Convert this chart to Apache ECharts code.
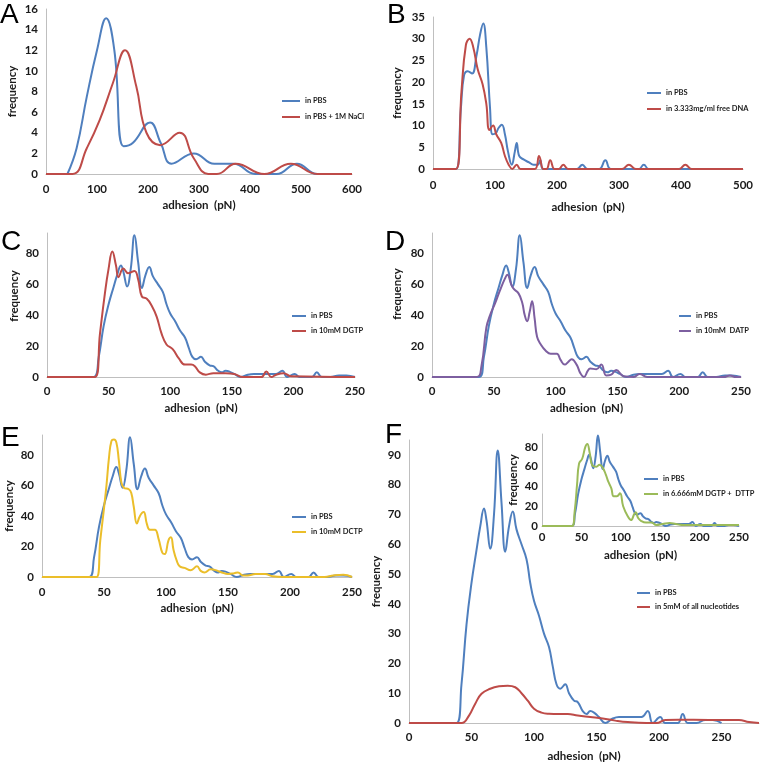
<!DOCTYPE html>
<html><head><meta charset="utf-8">
<script src="https://cdn.jsdelivr.net/npm/echarts@6/dist/echarts.min.js"></script>
<style>html,body{margin:0;padding:0;background:#fff}#c{width:762px;height:763px}</style>
</head><body><div id="c"></div><script>
// ---------- data (x = adhesion pN, y = frequency) ----------
const pbsA = [[42,0],[60,2.5],[80,7.5],[100,12],[118,15.1],[134,12],[152,2.7],[170,3],[204,5],[225,3],[246,1],[290,2],[330,1],[368,1],[410,0],[452,0],[492,1],[532,0],[600,0]];
const naclA = [[0,0],[13,0],[52,0],[80,2.5],[105,5.2],[131,8.8],[155,12],[177,8.5],[197,4],[224,2.8],[262,4],[290,1.5],[318,0],[335,0],[372,1],[428,0],[480,1],[532,0],[600,0]];

const pbsB = [[0,0],[37,0],[45,14],[50,21.5],[56,22.5],[63,22],[70,26],[76,31],[81,33.5],[86,28],[92,14],[96,8],[101,8.2],[106,9.5],[111,10.2],[116,8],[121,4],[127,1],[132,4],[135,6],[139,3],[146,2.2],[155,1.5],[162,1],[169,1],[173,2],[178,0],[232,0],[241,1],[249,0],[268,0],[278,2],[287,0],[332,0],[340,1],[348,0],[500,0]];
const dnaB = [[0,0],[37,0],[46,18],[53,28.5],[59,30],[65,28],[72,23],[80,19.5],[86,15],[91,9],[97,10],[102,8],[110,6],[116,3],[122,1],[128,0],[135,1],[141,0],[164,0],[171,3],[178,0],[183,0],[189,2],[196,0],[203,0],[210,1],[218,0],[305,0],[316,1],[327,0],[397,0],[407,1],[417,0],[500,0]];

const pbsN = [[0,0],[38,0],[42,13],[46,33],[50,47],[54,58],[57,66],[60,72],[62,68],[65,58.5],[68,70],[71,91.5],[74,74],[77,57.5],[80,66],[83,71],[86,65],[90,60],[94,55],[97,47],[100,41],[104,36],[108,30],[112,25.5],[115,19],[118,13],[121,11.5],[125,13],[128,10],[132,7.5],[135,7],[139,4],[142,3],[145,4],[148,3.5],[152,2],[157,0],[163,1.5],[168,2],[178,2],[186,2],[191,4],[195,0],[201,2],[205,0],[215,0],[219,3],[223,0],[230,0],[237,1],[243,1],[250,0]];
const dgtpC = [[0,0],[39,0],[43,28],[47,54],[50,70],[53,81],[56,72],[58,64.5],[62,70],[66,67],[71,68.5],[74,63],[77,52],[81,50.5],[85,46],[89,39],[93,28],[97,21],[102,18],[107,12],[112,8],[117,8],[120,7],[124,3],[129,1.5],[135,2.5],[145,2.5],[152,2],[159,0],[174,0],[178,3.5],[182,0],[186,1.5],[192,2.5],[198,0.5],[250,0]];
const datpD = [[0,0],[36,0],[40,7],[44,32],[47,40],[51,47.5],[55,56],[59,63.5],[61,66],[64,60],[66,57],[70,54],[73,48],[75,40],[77,36],[79,42],[81,49],[83,38],[85,26],[88,21],[92,17],[96,15],[101,15],[104,11],[107.5,8],[110,9.5],[113,11.5],[117,8],[120,2.5],[123,0],[126,4],[128,5.5],[133,5],[137,8],[141,1],[145,1.5],[149,4.5],[155,0.5],[163,0],[168,2],[174,0],[236,0],[241,1],[246,0],[250,0]];
const dctpE = [[0,0],[44,0],[47,24],[50,45],[52,60],[54,78],[56,89],[58,90],[60,88],[62,76],[64,62],[66,58.5],[70,57.5],[72,55],[74,46],[76.5,35],[79,40],[82,42.5],[84.5,35],[87,31],[91,31],[94,25],[97,16],[99,15],[102,24],[104,26],[106,18],[108.5,11],[111,7],[115,6],[120,4.5],[125,7],[128,4],[131,3],[136,5],[140,4.5],[145,3],[150,2],[155,2.5],[158,3],[162,1],[166,1],[172,2],[180,2],[186,0.5],[195,0],[228,0],[235,1],[243,1.5],[250,0]];
const allF = [[0,0],[42,0],[48,2.5],[53,6.5],[58,9.8],[65,11.5],[72,12.3],[79,12.5],[85,12],[90,10],[95,7.5],[100,4.8],[106,3.5],[112,3.1],[120,3],[127,3],[135,2.5],[145,2],[155,1.5],[165,0.8],[175,0.3],[190,0],[198,0],[205,1],[215,1.1],[240,1],[255,1],[264,1],[272,0.3],[280,0]];
const dgtpDttpInset = [[0,0],[38,0],[41.5,15],[44.5,42],[47,63],[51,68],[55,80],[57.5,83],[60.5,74],[64,61],[69,60],[73,62],[77,59],[81,52],[84,45],[88,38],[91,30],[95,30],[99,33],[103,20],[109,9.5],[113,6],[117,12],[119,14],[122,8],[126,5],[132,3.5],[139,3.5],[145,1],[153,2],[162,3],[170,2],[180,1],[250,1]];

const letters = ['A','B','C','D','E','F'];
const namePBS = 'in PBS';

// ---------- style ----------
const FONT = 'Lato';
const BLUE = '#4F7FBE', RED = '#BE4B48', PURPLE = '#7D5FA0', GOLD = '#EBBE2A', GREEN = '#9BBB59';
const AXIS = '#BFBFBF', TXT = '#1a1a1a';

const panels = [
  {grid:{left:46,top:9,width:306,height:165}, xmax:600, xint:100, ymax:16, yint:2, showYMax:true, showXMax:true,
   s:[[namePBS,pbsA,BLUE],['in PBS + 1M NaCl',naclA,RED]], leg:{x:282,y:101,gap:16,w:18}, xGap:25, yGap:28, lm:9},
  {grid:{left:433,top:17,width:310,height:152}, xmax:500, xint:100, ymax:35, yint:5, showYMax:true, showXMax:true,
   s:[[namePBS,pbsB,BLUE],['in 3.333mg/ml free DNA',dnaB,RED]], leg:{x:647,y:93,gap:16,w:14}, xGap:32, yGap:30, lm:10},
  {grid:{left:47,top:233,width:308,height:144}, xmax:250, xint:50, ymax:93, yint:20, showYMax:false, showXMax:true,
   s:[[namePBS,pbsN,BLUE],['in 10mM DGTP',dgtpC,RED]], leg:{x:292,y:316,gap:15,w:14}, xGap:25, yGap:27, lm:8, yShift:9},
  {grid:{left:432,top:233,width:309,height:144}, xmax:250, xint:50, ymax:93, yint:20, showYMax:false, showXMax:true,
   s:[[namePBS,pbsN,BLUE],['in 10mM  DATP',datpD,PURPLE]], leg:{x:679,y:316,gap:15,w:12}, xGap:25, yGap:29, lm:8, yShift:11},
  {grid:{left:42,top:435,width:310,height:142}, xmax:250, xint:50, ymax:93, yint:20, showYMax:false, showXMax:true,
   s:[[namePBS,pbsN,BLUE],['in 10mM DCTP',dctpE,GOLD]], leg:{x:292,y:517,gap:15,w:14}, xGap:25, yGap:27, lm:9},
  {grid:{left:409,top:440,width:350,height:284}, xmax:280, xint:50, ymax:95, yint:10, showYMax:false, showXMax:false,
   s:[[namePBS,pbsN,BLUE],['in 5mM of all nucleotides',allF,RED]], leg:{x:637,y:593,gap:14,w:13}, xGap:27, yGap:27, lm:8},
  {grid:{left:542,top:434,width:197,height:92}, xmax:250, xint:50, ymax:93, yint:20, showYMax:false, showXMax:true,
   s:[[namePBS,pbsN,BLUE],['in 6.666mM DGTP +  DTTP',dgtpDttpInset,GREEN]], leg:{x:644,y:479,gap:15,w:14}, xGap:23, yGap:23, lm:5, ylm:4}
];
const letterPos = [[0,14],[387,14],[1,241],[385,241],[1,437],[385,434]];

const labelStyle = {fontFamily:FONT, fontWeight:'bold', fontSize:11.5, color:TXT};
const option = {animation:false, backgroundColor:'#fff', grid:[], xAxis:[], yAxis:[], series:[], legend:[], graphic:[]};

panels.forEach((p,i)=>{
  option.grid.push(Object.assign({containLabel:false}, p.grid));
  option.xAxis.push({type:'value', gridIndex:i, min:0, max:p.xmax, interval:p.xint,
    axisLine:{show:true, onZero:false, lineStyle:{color:AXIS,width:1}}, axisTick:{show:false}, splitLine:{show:false},
    axisLabel:Object.assign({margin:p.lm, showMaxLabel:p.showXMax}, labelStyle),
    name:'adhesion  (pN)', nameLocation:'middle', nameGap:p.xGap, nameTextStyle:Object.assign({}, labelStyle)});
  const yName = Object.assign({}, labelStyle);
  if (p.yShift) yName.padding = [0,0,0,2*p.yShift];
  option.yAxis.push({type:'value', gridIndex:i, min:0, max:p.ymax, interval:p.yint,
    axisLine:{show:true, onZero:false, lineStyle:{color:AXIS,width:1}}, axisTick:{show:false}, splitLine:{show:false},
    axisLabel:Object.assign({margin:p.ylm||8, showMaxLabel:p.showYMax}, labelStyle),
    name:'frequency', nameLocation:'middle', nameRotate:90, nameGap:p.yGap, nameTextStyle:yName});
  p.s.forEach(([name,data,color])=>{
    option.series.push({type:'line', name, xAxisIndex:i, yAxisIndex:i, data, smooth:0.45, symbol:'none',
      lineStyle:{color, width:2}, itemStyle:{color}, clip:true});
  });
  option.legend.push({orient:'vertical', left:p.leg.x, top:p.leg.y-5.5, padding:0, itemGap:p.leg.gap-11,
    itemWidth:p.leg.w, itemHeight:2, icon:'rect', selectedMode:false,
    data:p.s.map(s=>({name:s[0], itemStyle:{color:s[2]}})),
    textStyle:{fontFamily:FONT, fontWeight:'bold', fontSize:7.5, color:TXT, lineHeight:11}});
});
letters.forEach((L,i)=>{
  option.graphic.push({type:'text', left:letterPos[i][0], top:letterPos[i][1]-13,
    style:{text:L, font:'28px "Liberation Sans", Arial, sans-serif', fill:'#000'}});
});

const chart = echarts.init(document.getElementById('c'), null, {renderer:'canvas'});
chart.setOption(option);
</script></body></html>
